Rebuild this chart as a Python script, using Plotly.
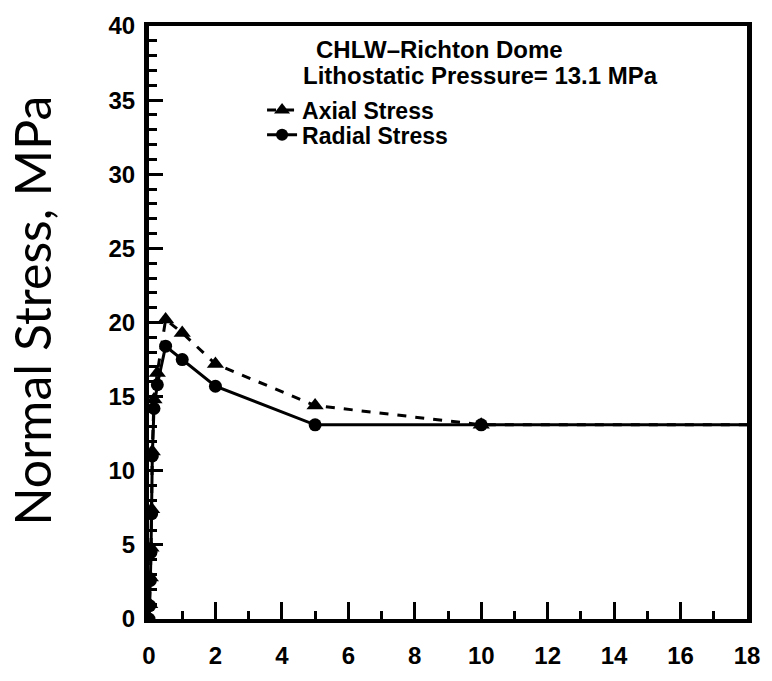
import plotly.graph_objects as go

# Time (x) values and stresses (MPa)
axial_x = [0, 0.02, 0.04, 0.06, 0.08, 0.1, 0.15, 0.25, 0.5, 1, 2, 5, 10, 18]
axial_y = [0, 1.0, 2.8, 4.8, 7.4, 11.3, 14.8, 16.6, 20.2, 19.3, 17.2, 14.4, 13.1, 13.1]
radial_x = [0, 0.02, 0.04, 0.06, 0.08, 0.1, 0.15, 0.25, 0.5, 1, 2, 5, 10, 18]
radial_y = [0, 0.9, 2.6, 4.5, 7.1, 11.0, 14.2, 15.8, 18.4, 17.5, 15.7, 13.1, 13.1, 13.1]
# the last point (end of run at x=18) carries no marker
axial_msize = [15] * (len(axial_x) - 1) + [0]
radial_msize = [13] * (len(radial_x) - 1) + [0]

x_range = [0, 18]
y_range = [0, 40]
title_lines = ["CHLW\u2013Richton Dome", "Lithostatic Pressure= 13.1 MPa"]
y_title = "Normal Stress, MPa"

BOLD = dict(family="Liberation Sans", color="black", weight=700)

# plot-area geometry in pixels (for placing text in paper coordinates)
L, R, T, B = 149, 20, 21, 60
W, H = 772, 681
PW, PH = W - L - R, H - T - B


def px(x):
    return (x - L) / PW


def py(y):
    return (H - B - y) / PH


fig = go.Figure()
fig.add_trace(go.Scatter(
    x=radial_x, y=radial_y, mode="lines+markers", name="Radial Stress",
    legend="legend2",
    line=dict(color="black", width=3),
    marker=dict(symbol="circle", size=radial_msize, color="black", opacity=1,
                line=dict(width=0, color="black")),
))
fig.add_trace(go.Scatter(
    x=axial_x, y=axial_y, mode="lines+markers", name="Axial Stress",
    legend="legend",
    line=dict(color="black", width=3, dash="dash"),
    marker=dict(symbol="triangle-up", size=axial_msize, color="black", opacity=1,
                line=dict(width=0, color="black")),
))

leg_common = dict(xanchor="left", yanchor="middle",
                  font=dict(size=23, **BOLD), bgcolor="rgba(0,0,0,0)")

fig.update_layout(
    width=W, height=H,
    margin=dict(l=L, r=R, t=T, b=B),
    paper_bgcolor="white", plot_bgcolor="white",
    showlegend=True,
    legend=dict(x=px(263), y=py(106), **leg_common),
    legend2=dict(x=px(263), y=py(131), **leg_common),
    xaxis=dict(
        range=x_range, tick0=0, dtick=2,
        ticks="inside", ticklen=17, tickwidth=3, tickcolor="black",
        minor=dict(tick0=0, dtick=1, ticks="inside", ticklen=8, tickwidth=3,
                   tickcolor="black", showgrid=False),
        showline=True, linewidth=4, linecolor="black", mirror=True,
        showgrid=False, zeroline=False,
        tickfont=dict(size=24, **BOLD),
        ticklabelstandoff=12,
    ),
    yaxis=dict(
        range=y_range, tick0=0, dtick=5,
        ticks="inside", ticklen=14, tickwidth=3, tickcolor="black",
        minor=dict(tick0=0, dtick=1, ticks="inside", ticklen=8, tickwidth=3,
                   tickcolor="black", showgrid=False),
        showline=True, linewidth=5, linecolor="black", mirror=True,
        showgrid=False, zeroline=False,
        tickfont=dict(size=24, **BOLD),
        ticklabelstandoff=4,
    ),
)

fig.add_annotation(x=px(315), y=py(45), xref="paper", yref="paper",
                   text=title_lines[0], showarrow=False,
                   font=dict(size=24, **BOLD), xanchor="left", yanchor="middle")
fig.add_annotation(x=px(302), y=py(71), xref="paper", yref="paper",
                   text=title_lines[1], showarrow=False,
                   font=dict(size=24, **BOLD), xanchor="left", yanchor="middle")
fig.add_annotation(x=px(31), y=py(309), xref="paper", yref="paper",
                   text=y_title, textangle=-90, showarrow=False,
                   font=dict(family="Lato", size=50, color="black"),
                   xanchor="center", yanchor="middle")

fig.write_html("out.html")
